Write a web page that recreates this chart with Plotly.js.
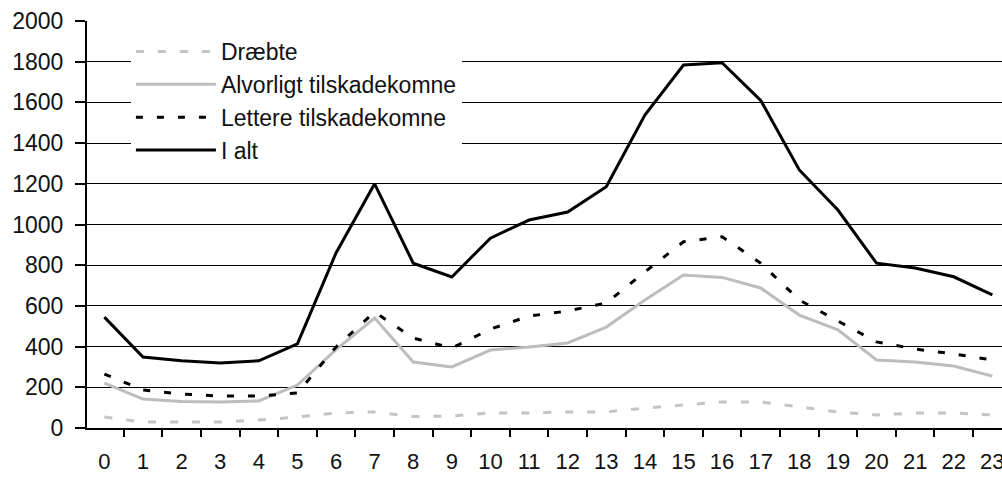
<!DOCTYPE html>
<html>
<head>
<meta charset="utf-8">
<script src="https://cdn.plot.ly/plotly-3.0.1.min.js"></script>
<style>
  body { margin: 0; background: #fff; }
  #chart { width: 1002px; height: 478px; }
</style>
</head>
<body>
<div id="chart"></div>
<script>
var hours = ["0","1","2","3","4","5","6","7","8","9","10","11","12","13","14","15","16","17","18","19","20","21","22","23"];

var draebte    = [54, 29, 29, 29, 39, 54, 74, 79, 56, 59, 74, 74, 79, 79, 98, 113, 128, 128, 103, 79, 64, 74, 74, 64];
var alvorligt  = [221, 142, 130, 128, 133, 211, 385, 540, 324, 300, 383, 398, 418, 496, 629, 752, 740, 688, 555, 482, 334, 324, 305, 255];
var lettere    = [265, 187, 167, 157, 157, 172, 398, 570, 442, 393, 486, 550, 575, 614, 767, 915, 940, 810, 629, 526, 423, 388, 364, 334];
var ialt       = [545, 349, 330, 320, 330, 413, 860, 1200, 810, 742, 933, 1022, 1061, 1186, 1538, 1784, 1795, 1610, 1268, 1071, 810, 786, 743, 654];

var traces = [
  { x: hours, y: draebte, name: "Dræbte", type: "scatter", mode: "lines",
    line: { color: "#c4c4c4", width: 3, dash: "8px,14px" } },
  { x: hours, y: alvorligt, name: "Alvorligt tilskadekomne", type: "scatter", mode: "lines",
    line: { color: "#bdbdbd", width: 3 } },
  { x: hours, y: lettere, name: "Lettere tilskadekomne", type: "scatter", mode: "lines",
    line: { color: "#000", width: 3, dash: "7px,14px" } },
  { x: hours, y: ialt, name: "I alt", type: "scatter", mode: "lines",
    line: { color: "#000", width: 3 } }
];

var layout = {
  width: 1002,
  height: 478,
  margin: { l: 87, r: 0, t: 21, b: 50 },
  paper_bgcolor: "#fff",
  plot_bgcolor: "#fff",
  font: { family: "Liberation Sans, Arial, sans-serif", size: 23, color: "#111" },
  showlegend: true,
  legend: {
    x: 0.048, y: 0.978, xanchor: "left", yanchor: "top",
    bgcolor: "#fff", borderwidth: 0,
    font: { size: 23, color: "#111" },
    itemwidth: 80,
    traceorder: "normal"
  },
  xaxis: {
    type: "category",
    range: [-0.45, 23.25],
    tickson: "boundaries",
    ticks: "outside", ticklen: 7, tickwidth: 2, tickcolor: "#000",
    showline: true, linecolor: "#000", linewidth: 2,
    showgrid: false, zeroline: false,
    tickfont: { size: 22 },
    ticklabelstandoff: 13
  },
  yaxis: {
    range: [0, 2000],
    tickvals: [0, 200, 400, 600, 800, 1000, 1200, 1400, 1600, 1800, 2000],
    ticks: "outside", ticklen: 10, tickwidth: 2, tickcolor: "#000",
    showline: true, linecolor: "#000", linewidth: 2,
    showgrid: true, gridcolor: "#000", gridwidth: 1.2,
    zeroline: false,
    ticklabelstandoff: 7
  }
};

Plotly.newPlot("chart", traces, layout, { displayModeBar: false, staticPlot: true });
</script>
</body>
</html>
